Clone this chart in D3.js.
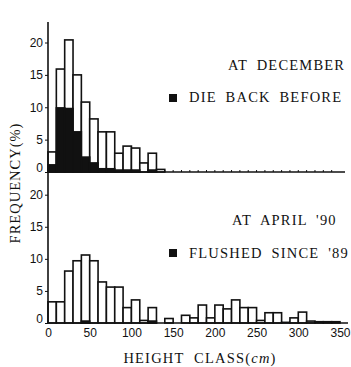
<!DOCTYPE html>
<html><head><meta charset="utf-8">
<script src="https://cdn.jsdelivr.net/npm/d3@7"></script>
<style>body{margin:0;background:#fff;overflow:hidden}svg{display:block}</style>
</head><body><svg id="c" width="351" height="367"></svg>
<script>
const binStarts = [0,10,20,30,40,50,60,70,80,90,100,110,120,130,140,150,160,170,180,190,200,210,220,230,240,250,260,270,280,290,300,310,320,330,340];
const decemberTotal = [3.1,15.9,20.4,15.0,10.8,8.2,6.2,6.2,2.9,4.0,3.7,1.4,2.9,0.4,0,0,0,0,0,0,0,0,0,0,0,0,0,0,0,0,0,0,0,0,0];
const decemberDieBack = [1.1,9.9,9.8,6.2,2.3,1.4,0.5,0.5,0.3,0.3,0.3,0,0.3,0,0,0,0,0,0,0,0,0,0,0,0,0,0,0,0,0,0,0,0,0,0];
const aprilTotal = [3.3,3.3,8.1,9.7,10.6,9.7,6.4,5.6,5.6,2.4,3.6,0.4,2.4,0,0.7,0,1.2,0.8,2.8,0.8,2.8,2.2,3.6,2.4,2.4,0.4,1.6,1.6,0.1,0.8,1.7,0.3,0.2,0.2,0.2];
const aprilFlushed = [0,0,0,0,0.3,0,0,0,0,0,0,0,0.3,0,0,0,0,0,0,0,0,0,0,0,0,0,0,0,0,0,0,0,0,0,0];
const yTicks = [0,5,10,15,20];
const xTickLabels = [0,50,100,150,200,250,300,350];
const binWidth = 10;

const svg = d3.select('#c');
const x = d3.scaleLinear().domain([0,350]).range([48,340]);
const yTop = d3.scaleLinear().domain([0,20]).range([172,42.5]);
const yBot = d3.scaleLinear().domain([0,20]).range([323,194.7]);

function panel(y, totals, blacks, topY, axisEnd) {
  const g = svg.append('g');
  const data = binStarts.map((b,i)=>({b, t: totals[i], k: blacks[i]}));
  g.selectAll('line.mt').data(binStarts).enter().append('line')
    .attr('x1', d=>x(d)).attr('x2', d=>x(d))
    .attr('y1', y(0)).attr('y2', y(0)-2)
    .attr('stroke','#111').attr('stroke-width',1);
  g.selectAll('rect.tot').data(data.filter(d=>d.t>0)).enter().append('rect')
    .attr('x', d=>x(d.b)).attr('width', d=>x(d.b+binWidth)-x(d.b))
    .attr('y', d=>y(d.t)).attr('height', d=>y(0)-y(d.t))
    .attr('fill','#fff').attr('stroke','#111').attr('stroke-width',1.6);
  g.selectAll('rect.blk').data(data.filter(d=>d.k>0)).enter().append('rect')
    .attr('x', d=>x(d.b)).attr('width', d=>x(d.b+binWidth)-x(d.b))
    .attr('y', d=>y(d.k)).attr('height', d=>y(0)-y(d.k))
    .attr('fill','#111').attr('stroke','#111').attr('stroke-width',1.6);
  g.append('line').attr('x1', x(0)).attr('x2', axisEnd).attr('y1', y(0)).attr('y2', y(0))
    .attr('stroke','#111').attr('stroke-width',1.6);
  const ax = d3.axisLeft(y).tickValues(yTicks).tickSize(3).tickPadding(2).tickFormat(d3.format('d'));
  const ag = g.append('g').attr('transform',`translate(${x(0)},0)`).call(ax);
  ag.select('.domain').remove();
  ag.selectAll('line').attr('stroke','#111');
  ag.selectAll('text').attr('font-family','Liberation Sans, Arial, sans-serif').attr('font-size',12).attr('fill','#111');
  ag.selectAll('.tick').filter(d=>d===0).select('text').attr('dy','-0.05em');
  g.append('line').attr('x1', x(0)).attr('x2', x(0)).attr('y1', topY).attr('y2', y(0))
    .attr('stroke','#111').attr('stroke-width',1.6);
  return g;
}

panel(yTop, decemberTotal, decemberDieBack, 22, 345);
panel(yBot, aprilTotal, aprilFlushed, 172, 348);

const xa = d3.axisBottom(x).tickValues(xTickLabels).tickSize(0).tickPadding(5).tickFormat(d3.format('d'));
const xg = svg.append('g').attr('transform',`translate(0,${yBot(0)})`).call(xa);
xg.select('.domain').remove();
xg.selectAll('text').attr('font-family','Liberation Sans, Arial, sans-serif').attr('font-size',12).attr('fill','#111');

const serif = 'Liberation Serif, Times New Roman, serif';
function txt(s, xx, yy, size, anchor) {
  return svg.append('text').attr('x',xx).attr('y',yy).attr('font-family',serif)
    .attr('font-size',size).attr('fill','#111').attr('text-anchor',anchor||'start')
    .attr('letter-spacing','1.2px').attr('word-spacing','4px').text(s);
}
txt("AT DECEMBER", 228, 70, 14.5);
svg.append('rect').attr('x',169).attr('y',94).attr('width',8).attr('height',8).attr('fill','#111');
txt("DIE BACK BEFORE", 189, 102, 14.5);
txt("AT APRIL '90", 232, 225, 14.5);
svg.append('rect').attr('x',169).attr('y',249).attr('width',8).attr('height',8).attr('fill','#111');
txt("FLUSHED SINCE '89", 189, 258, 14.5);

svg.append('text').attr('transform','translate(20,183) rotate(-90)')
  .attr('font-family',serif).attr('font-size',14.5).attr('fill','#111')
  .attr('text-anchor','middle').attr('letter-spacing','1px').text('FREQUENCY(%)');
const xl = svg.append('text').attr('x',200).attr('y',363).attr('font-family',serif)
  .attr('font-size',14.5).attr('fill','#111').attr('text-anchor','middle').attr('letter-spacing','1.2px').attr('word-spacing','5px');
xl.append('tspan').text('HEIGHT CLASS(');
xl.append('tspan').attr('font-style','italic').text('cm');
xl.append('tspan').text(')');
</script></body></html>
